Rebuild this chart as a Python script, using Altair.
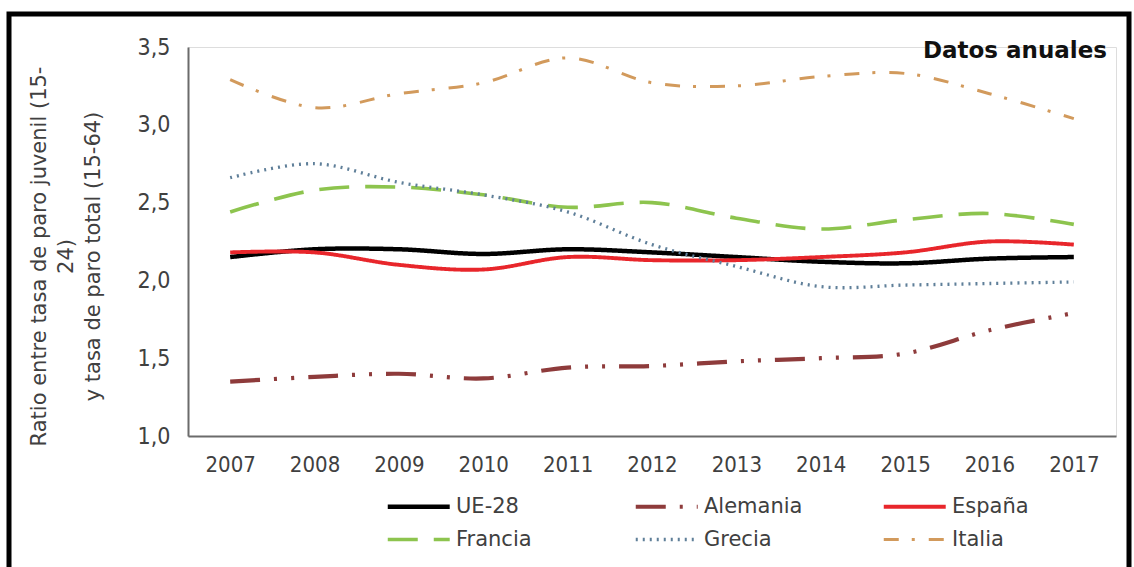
import altair as alt
import pandas as pd

# Ratio between youth (15-24) and total (15-64) unemployment rates, yearly
years = ["2007", "2008", "2009", "2010", "2011", "2012", "2013", "2014", "2015", "2016", "2017"]

ue28     = [2.15, 2.20, 2.20, 2.17, 2.20, 2.18, 2.15, 2.12, 2.11, 2.14, 2.15]
alemania = [1.35, 1.38, 1.40, 1.37, 1.44, 1.45, 1.48, 1.50, 1.53, 1.68, 1.79]
espana   = [2.18, 2.18, 2.10, 2.07, 2.15, 2.13, 2.13, 2.15, 2.18, 2.25, 2.23]
francia  = [2.44, 2.58, 2.60, 2.55, 2.47, 2.50, 2.40, 2.33, 2.39, 2.43, 2.36]
grecia   = [2.66, 2.75, 2.63, 2.55, 2.44, 2.23, 2.09, 1.96, 1.97, 1.98, 1.99]
italia   = [3.29, 3.11, 3.20, 3.27, 3.43, 3.27, 3.25, 3.31, 3.33, 3.20, 3.04]

series_names = ["UE-28", "Alemania", "España", "Francia", "Grecia", "Italia"]
series_values = [ue28, alemania, espana, francia, grecia, italia]

colors = ["#000000", "#8e3b3b", "#e8262b", "#8dc44e", "#5f7f99", "#d29a5c"]
dashes = [[1, 0], [30, 14, 3, 14, 3, 14], [1, 0], [30, 16], [2, 5], [15, 13, 3, 14]]
widths = [4.5, 3, 3, 3, 2.5, 3]

rows = []
for name, vals in zip(series_names, series_values):
    for yr, v in zip(years, vals):
        rows.append({"anio": yr, "ratio": v, "serie": name})
df = pd.DataFrame(rows)

TICK_FONT = "'Liberation Sans Narrow', 'DejaVu Sans Condensed', 'Liberation Sans', sans-serif"
TEXT_FONT = "'DejaVu Sans', sans-serif"
TEXT_COLOR = "#404040"

# legend key: a long horizontal stroke drawn from a short symbol box
KEY_PATH = "M-1,0H7"
KEY_SIZE = 240

lines = alt.Chart(df).mark_line(interpolate="cardinal").encode(
    x=alt.X("anio:O", sort=years, title=None,
            scale=alt.Scale(paddingOuter=0.5),
            axis=alt.Axis(labelAngle=0, ticks=False, grid=False,
                          domainColor="#6b6b6b", domainWidth=2,
                          labelFont=TICK_FONT, labelFontSize=22,
                          labelColor=TEXT_COLOR, labelPadding=18)),
    y=alt.Y("ratio:Q",
            scale=alt.Scale(domain=[1, 3.5], nice=False, zero=False),
            axis=alt.Axis(values=[1, 1.5, 2, 2.5, 3, 3.5], ticks=False, grid=False,
                          domainColor="#6b6b6b", domainWidth=2,
                          labelExpr="replace(format(datum.value, '.1f'), '.', ',')",
                          labelFont=TICK_FONT, labelFontSize=23,
                          labelColor=TEXT_COLOR, labelPadding=18,
                          title=["Ratio entre tasa de paro juvenil (15-", "24)",
                                 "y tasa de paro total (15-64)"],
                          titleFont=TEXT_FONT, titleFontSize=21,
                          titleFontWeight="normal", titleColor=TEXT_COLOR,
                          titleAngle=270, titleAlign="center", titleBaseline="top",
                          titleLineHeight=27, titleX=-160, titleY=209)),
    color=alt.Color("serie:N", sort=series_names,
                    scale=alt.Scale(domain=series_names, range=colors),
                    legend=alt.Legend(title=None, orient="none", direction="horizontal",
                                      legendX=197, legendY=449,
                                      columns=3, symbolType=KEY_PATH, symbolSize=KEY_SIZE,
                                      labelFont=TEXT_FONT, labelFontSize=21,
                                      labelColor=TEXT_COLOR, labelOffset=50,
                                      columnPadding=72, rowPadding=11,
                                      gridAlign="all")),
    strokeDash=alt.StrokeDash("serie:N", sort=series_names,
                              scale=alt.Scale(domain=series_names, range=dashes)),
    strokeWidth=alt.StrokeWidth("serie:N", sort=series_names,
                                scale=alt.Scale(domain=series_names, range=widths)),
)

label = alt.Chart(alt.Data(values=[{"t": "Datos anuales"}])).mark_text(
    align="right", baseline="middle", font="DejaVu Sans", fontWeight="bold",
    fontSize=23, color="#111111"
).encode(x=alt.value(919), y=alt.value(4), text="t:N")

frame = alt.Chart(alt.Data(values=[{}])).mark_rect(
    fill=None, stroke="#000000", strokeWidth=5
).encode(x=alt.value(-179), x2=alt.value(941), y=alt.value(-33), y2=alt.value(540))

chart = alt.layer(lines, label, frame).properties(
    width=928, height=389,
    autosize=alt.AutoSizeParams(type="none"),
    padding={"left": 188, "top": 47, "right": 18, "bottom": 131},
).configure_view(stroke=None).configure(background="white")

chart.save("out.html", embed_options={"renderer": "svg", "actions": False})
